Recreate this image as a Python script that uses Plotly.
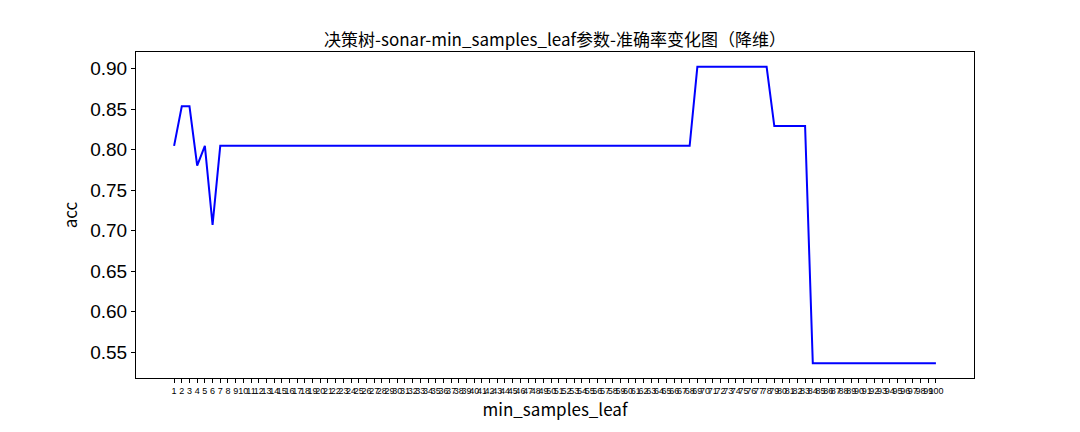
import plotly.graph_objects as go

# data (test-set accuracy per min_samples_leaf value)
min_samples_leaf = list(range(1, 101))
acc_head = [33/41, 35/41, 35/41, 32/41, 33/41, 29/41]
acc_mid_low = [33/41] * 62      # leaf 7..68
acc_high = [37/41] * 10         # leaf 69..78
acc_mid = [34/41] * 5           # leaf 79..83
acc_tail = [22/41] * 17         # leaf 84..100
acc = acc_head + acc_mid_low + acc_high + acc_mid + acc_tail

y_ticks = [0.55, 0.60, 0.65, 0.70, 0.75, 0.80, 0.85, 0.90]

title = "决策树-sonar-min_samples_leaf参数-准确率变化图（降维）"

fig = go.Figure()
fig.add_trace(go.Scatter(x=min_samples_leaf, y=acc, mode="lines",
                         line=dict(color="#0000ff", width=2)))

span = max(acc) - min(acc)
fig.update_layout(
    width=1080, height=432,
    margin=dict(l=136, r=106, t=52, b=54),
    paper_bgcolor="white", plot_bgcolor="white",
    showlegend=False,
    font=dict(family="Noto Sans CJK SC, DejaVu Sans", color="black"),
    title=dict(text=title, x=(136 + 974) / 2 / 1080, xanchor="center",
               y=1 - 40 / 432, yanchor="middle",
               font=dict(size=17, family="Noto Sans CJK SC")),
)
fig.update_xaxes(
    range=[1 - 99 * 0.05, 100 + 99 * 0.05],
    tickmode="array", tickvals=min_samples_leaf,
    ticktext=[str(v) for v in min_samples_leaf],
    tickangle=0, tickfont=dict(size=9, family="Liberation Sans Narrow, Liberation Sans"),
    ticks="outside", ticklen=4, tickcolor="black",
    showline=True, linecolor="black", linewidth=1, mirror=True,
    showgrid=False, zeroline=False, automargin=False,
    title=dict(text="min_samples_leaf", font=dict(size=17), standoff=2),
)
fig.update_yaxes(
    range=[min(acc) - span * 0.05, max(acc) + span * 0.05],
    tickmode="array", tickvals=y_ticks,
    ticktext=[f"{v:.2f}" for v in y_ticks],
    tickfont=dict(size=19, family="Liberation Sans"),
    ticks="outside", ticklen=4, tickcolor="black",
    showline=True, linecolor="black", linewidth=1, mirror=True,
    showgrid=False, zeroline=False, automargin=False,
    title=dict(text="acc", font=dict(size=17), standoff=8),
)

fig.write_html("out.html", config={"displayModeBar": False},
               post_script="document.body.style.margin='0';")
